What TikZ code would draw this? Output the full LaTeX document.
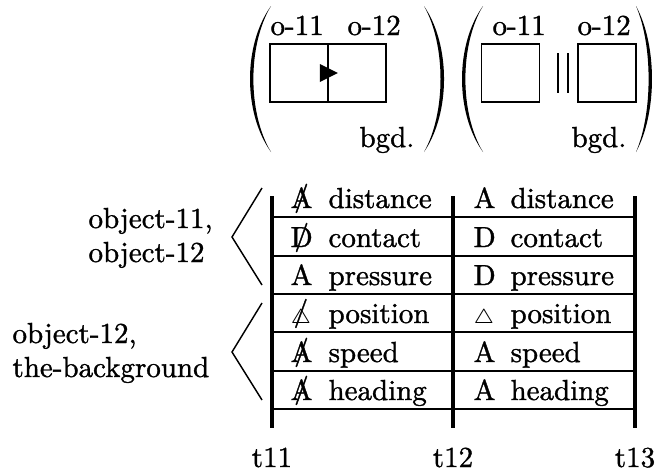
\documentclass[tikz,border=0pt]{standalone}
\usepackage{graphicx}
\usepackage{fontspec}
\setmainfont{Latin Modern Roman}[FakeBold=1.2]
\newcommand\negsym[1]{\ooalign{#1\cr\hidewidth\raisebox{0.8pt}{/}\hidewidth\cr}}
\newcommand\smalltri{{\fontsize{7}{8}\selectfont$\triangle$}}
\begin{document}
\begin{tikzpicture}[x=0.345pt,y=-0.345pt,
  txt/.style={inner sep=0pt,anchor=base west},
  tlab/.style={inner sep=0pt,anchor=base},
  sq/.style={draw,line width=0.6pt,minimum size=20pt,inner sep=0pt},
  vline/.style={line width=1.3pt},
  hline/.style={line width=0.9pt},
  brk/.style={line width=0.5pt},
  bars/.style={line width=0.5pt}]
\useasboundingbox (0,0) rectangle (655,474);
% parentheses
\fill (271,6) .. controls (243.0,45) and (243.0,113) .. (271,152)
      .. controls (247.5,113) and (247.5,45) .. (271,6);
\fill (424,6) .. controls (450.7,45) and (450.7,113) .. (424,152)
      .. controls (446.0,113) and (446.0,45) .. (424,6);
\fill (483,6) .. controls (455.0,45) and (455.0,113) .. (483,152)
      .. controls (459.5,113) and (459.5,45) .. (483,6);
\fill (636,6) .. controls (657.3,45) and (657.3,113) .. (636,152)
      .. controls (652.8,113) and (652.8,45) .. (636,6);
% left picture
\node[sq] (b11) at (299,73) {};
\node[sq] (b12) at (357,73) {};
\fill ([shift={(-9,-9)}]b11.east) -- ([shift={(-9,9)}]b11.east) -- ([shift={(9,0)}]b11.east) -- cycle;
\node[txt] (o11a) at (270,35) {o-11};
\node[txt] (o12a) at (347,35) {o-12};
\node[txt] (bgda) at (359,147) {bgd.};
% right picture
\node[sq] (ba) at (510.5,73) {};
\node[sq] (bb) at (607,73) {};
\draw[bars] (558,53) -- (558,93);
\draw[bars] (568,53) -- (568,93);
\node[txt] (o11b) at (492,35) {o-11};
\node[txt] (o12b) at (577,35) {o-12};
\node[txt] (bgdb) at (571,147) {bgd.};
% grid
\foreach \x/\n in {272/1,453/2,635/3}{
  \coordinate (vt\n) at (\x,196);
  \coordinate (vb\n) at (\x,428);
  \draw[vline] (vt\n) -- (vb\n);
}
\foreach \y/\n in {217/1,256/2,294/3,332/4,371/5,409/6}{
  \coordinate (hl\n) at (272,\y);
  \coordinate (hr\n) at (635,\y);
  \draw[hline] (hl\n) -- (hr\n);
}
% left column
\node[txt] (L1) at (290,208) {\negsym{A}};
\node[txt] (L2) at (290,247) {\negsym{D}};
\node[txt] (L3) at (290,285) {A};
\node[txt] (L4) at (290,323) {\negsym{\smalltri}};
\node[txt] (L5) at (290,362) {\negsym{A}};
\node[txt] (L6) at (290,400) {\negsym{A}};
\node[txt] (WL1) at (328,208) {distance};
\node[txt] (WL2) at (328,247) {contact};
\node[txt] (WL3) at (328,285) {pressure};
\node[txt] (WL4) at (328,323) {position};
\node[txt] (WL5) at (328,362) {speed};
\node[txt] (WL6) at (328,400) {heading};
% right column
\node[txt] (R1) at (473,208) {A};
\node[txt] (R2) at (473,247) {D};
\node[txt] (R3) at (473,285) {D};
\node[txt] (R4) at (473,323) {\smalltri};
\node[txt] (R5) at (473,362) {A};
\node[txt] (R6) at (473,400) {A};
\node[txt] (WR1) at (510,208) {distance};
\node[txt] (WR2) at (510,247) {contact};
\node[txt] (WR3) at (510,285) {pressure};
\node[txt] (WR4) at (510,323) {position};
\node[txt] (WR5) at (510,362) {speed};
\node[txt] (WR6) at (510,400) {heading};
% brackets
\coordinate (k1a) at (262,188); \coordinate (k1b) at (232,237); \coordinate (k1c) at (262,285);
\coordinate (k2a) at (262,303); \coordinate (k2b) at (232,352); \coordinate (k2c) at (262,400);
\draw[brk] (k1a) -- (k1b) -- (k1c);
\draw[brk] (k2a) -- (k2b) -- (k2c);
% group labels
\node[txt] (g1a) at (88,228) {object-11,};
\node[txt] (g1b) at (88,262) {object-12};
\node[txt] (g2a) at (12,343) {object-12,};
\node[txt] (g2b) at (12,377) {the-background};
% time labels
\node[tlab] (t11) at (272,467) {t11};
\node[tlab] (t12) at (453,467) {t12};
\node[tlab] (t13) at (635,467) {t13};
\end{tikzpicture}
\end{document}
